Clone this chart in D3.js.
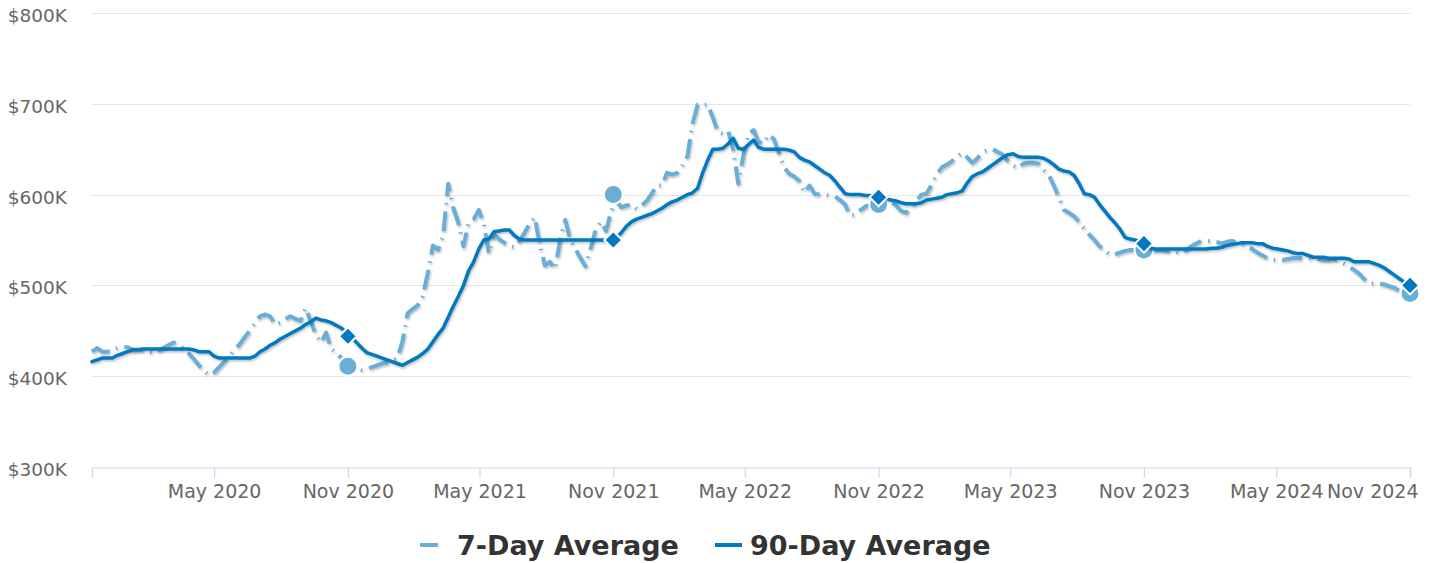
<!DOCTYPE html>
<html>
<head>
<meta charset="utf-8">
<script src="https://cdn.jsdelivr.net/npm/d3@7"></script>
<style>
  html, body { margin: 0; padding: 0; background: #fff; }
  svg { display: block; font-family: "DejaVu Sans", sans-serif; }
</style>
</head>
<body>
<svg id="chart"></svg>
<script>
// weekly points, first week Nov 15 2019, values in $K
const firstWeek = new Date(2019, 10, 15);
const weekCount = 260;

const avg7 = [
  427,431,427,427,428,431,432,432,429,429,
  429,427,425,428,431,434,437,435,430,425,
  419,412,407,401,404,410,416,422,429,435,
  443,450,458,466,468,466,457,459,463,466,
  463,461,475,460,446,437,448,430,426,420,
  414,410,409,407,408,410,412,414,415,417,
  420,438,469,474,478,488,514,544,539,555,
  612,585,569,543,569,573,583,568,535,556,
  551,547,543,542,549,558,568,575,545,522,
  526,518,550,572,550,540,530,521,541,562,
  570,560,581,594,586,588,589,584,588,593,
  601,610,610,624,622,624,632,642,678,699,
  699,699,685,669,667,670,650,612,643,667,
  671,658,656,666,661,646,630,623,620,615,
  602,610,601,600,600,599,598,594,589,577,
  578,583,587,589,590,590,591,592,588,582,
  580,585,593,600,601,611,622,630,633,637,
  642,646,641,635,640,647,649,650,647,644,
  637,632,629,634,635,635,634,627,622,610,
  597,583,580,576,570,562,556,550,543,538,
  534,534,536,538,539,539,538,538,538,539,
  539,538,538,537,535,539,543,546,549,549,
  549,548,546,548,549,547,546,543,540,536,
  533,530,528,528,528,529,530,530,530,530,
  530,529,528,528,529,527,524,521,517,513,
  507,502,502,502,501,499,497,494,492,490
];

const avg90 = [
  416,418,420,420,420,423,425,427,429,429,
  430,430,430,430,430,430,430,430,430,430,
  429,427,427,427,422,420,420,420,420,420,
  420,420,422,427,430,434,437,441,444,447,
  450,453,457,460,464,462,461,459,456,453,
  448,443,437,431,426,424,422,420,418,416,
  414,412,415,418,421,425,430,438,446,453,
  465,477,488,500,516,526,540,550,551,559,
  560,561,561,555,551,550,550,550,550,550,
  550,550,550,550,550,550,550,550,550,550,
  550,550,550,552,558,565,570,573,575,577,
  579,582,585,589,592,594,597,600,602,607,
  624,638,650,650,651,656,662,651,650,655,
  660,652,650,650,650,650,650,649,647,641,
  638,636,632,628,624,621,615,608,601,600,
  600,600,599,599,598,597,596,594,593,591,
  590,590,590,591,594,595,596,597,600,601,
  602,604,613,620,623,625,629,633,637,641,
  644,645,642,641,641,641,641,640,637,633,
  628,626,625,621,612,601,600,597,589,582,
  575,569,562,553,551,550,548,545,541,540,
  540,540,540,540,540,540,540,540,540,540,
  541,541,542,544,545,546,547,547,547,546,
  546,543,541,540,539,538,536,535,535,533,
  531,531,531,530,530,530,530,529,526,526,
  526,526,524,522,519,515,511,507,503,500
];

// highlighted points (Nov 1 each year)
const markerDates = ["2020-11-01", "2021-11-01", "2022-11-01", "2023-11-01", "2024-11-01"];
const marker7 = [411, 600, 589, 539, 491];
const marker90 = [444, 550, 597, 546, 500];

const yTicks = [300, 400, 500, 600, 700, 800];
const seriesNames = ["7-Day Average", "90-Day Average"];

const W = 1429, H = 563;
const margin = { top: 13, right: 19, bottom: 96, left: 92 };
const color7 = '#6aaed8';
const color90 = '#0079c1';

const parse = d3.timeParse('%Y-%m-%d');
const dates = d3.range(weekCount).map(i => d3.timeDay.offset(firstWeek, i * 7));
const data7 = dates.map((d, i) => ({ date: d, value: avg7[i] }));
const data90 = dates.map((d, i) => ({ date: d, value: avg90[i] }));
const marks7 = markerDates.map((d, i) => ({ date: parse(d), value: marker7[i] }));
const marks90 = markerDates.map((d, i) => ({ date: parse(d), value: marker90[i] }));

const svg = d3.select('#chart')
    .attr('width', W)
    .attr('height', H);

// soft shadow like the original
const defs = svg.append('defs');
const f = defs.append('filter').attr('id', 'shadow')
    .attr('x', '-5%').attr('y', '-5%').attr('width', '110%').attr('height', '120%');
f.append('feDropShadow')
    .attr('dx', 1).attr('dy', 1.5).attr('stdDeviation', 1.1)
    .attr('flood-color', '#000').attr('flood-opacity', 0.28);

const x = d3.scaleTime()
    .domain([firstWeek, dates[dates.length - 1]])
    .range([margin.left, W - margin.right]);

const y = d3.scaleLinear()
    .domain([300, 800])
    .range([H - margin.bottom, margin.top]);

// grid
svg.append('g')
    .selectAll('line')
    .data(yTicks.slice(1))
    .join('line')
    .attr('x1', margin.left)
    .attr('x2', W - margin.right)
    .attr('y1', d => Math.round(y(d)) + 0.5)
    .attr('y2', d => Math.round(y(d)) + 0.5)
    .attr('stroke', '#e6e6e6')
    .attr('stroke-width', 1);

// y labels
svg.append('g')
    .selectAll('text')
    .data(yTicks)
    .join('text')
    .attr('x', 67)
    .attr('y', d => y(d) + 9)
    .attr('text-anchor', 'end')
    .attr('font-size', 18.5)
    .attr('fill', '#666')
    .text(d => `$${d}K`);

// x axis
const xTicks = d3.timeMonth.range(new Date(2020, 0, 1), new Date(2024, 11, 1))
    .filter(m => m.getMonth() === 4 || m.getMonth() === 10);

const xAxis = svg.append('g')
    .attr('transform', `translate(0, ${Math.round(y(300)) + 0.5})`)
    .call(d3.axisBottom(x)
        .tickValues(xTicks)
        .tickFormat(d3.timeFormat('%b %Y'))
        .tickSize(10)
        .tickPadding(7));

xAxis.select('.domain').attr('stroke', '#ccd6eb').attr('stroke-width', 1.2);
xAxis.selectAll('.tick line').attr('stroke', '#ccd6eb').attr('stroke-width', 1.2);
xAxis.selectAll('.tick text')
    .attr('font-size', 19)
    .attr('font-family', '"DejaVu Sans", sans-serif')
    .attr('fill', '#666');

// last label is pushed inside the chart, as the original does
xAxis.selectAll('.tick text')
    .filter((d, i, n) => i === n.length - 1)
    .attr('text-anchor', 'end')
    .attr('dx', 8);

const line = d3.line()
    .x(d => x(d.date))
    .y(d => y(d.value));

// 7-day series
svg.append('path')
    .datum(data7)
    .attr('fill', 'none')
    .attr('stroke', color7)
    .attr('stroke-width', 4)
    .attr('stroke-dasharray', '20,7,1.5,7')
    .attr('stroke-linejoin', 'round')
    .attr('filter', 'url(#shadow)')
    .attr('d', line);

svg.append('g')
    .selectAll('circle')
    .data(marks7)
    .join('circle')
    .attr('cx', d => x(d.date))
    .attr('cy', d => y(d.value))
    .attr('r', 9.5)
    .attr('fill', color7)
    .attr('stroke', '#fff')
    .attr('stroke-width', 2);

// 90-day series
svg.append('path')
    .datum(data90)
    .attr('fill', 'none')
    .attr('stroke', color90)
    .attr('stroke-width', 3.5)
    .attr('stroke-linejoin', 'round')
    .attr('stroke-linecap', 'round')
    .attr('filter', 'url(#shadow)')
    .attr('d', line);

const diamond = (cx, cy, r) => `M${cx},${cy - r}L${cx + r},${cy}L${cx},${cy + r}L${cx - r},${cy}Z`;

svg.append('g')
    .selectAll('path')
    .data(marks90)
    .join('path')
    .attr('d', d => diamond(x(d.date), y(d.value), 9))
    .attr('fill', color90)
    .attr('stroke', '#fff')
    .attr('stroke-width', 2);

// legend
const legend = svg.append('g').attr('transform', 'translate(0, 545)');
const legendItems = [
    { name: seriesNames[0], color: color7, dash: '18,40', width: 4, x0: 420 },
    { name: seriesNames[1], color: color90, dash: null, width: 4, x0: 715 }
];

legendItems.forEach(it => {
    legend.append('line')
        .attr('x1', it.x0)
        .attr('x2', it.x0 + 27)
        .attr('y1', 0)
        .attr('y2', 0)
        .attr('stroke', it.color)
        .attr('stroke-width', it.width)
        .attr('stroke-dasharray', it.dash);
    legend.append('text')
        .attr('x', it.x0 + (it.dash ? 37 : 35))
        .attr('y', 10)
        .attr('font-size', 27)
        .attr('font-weight', 'bold')
        .attr('fill', '#333')
        .text(it.name);
});
</script>
</body>
</html>
